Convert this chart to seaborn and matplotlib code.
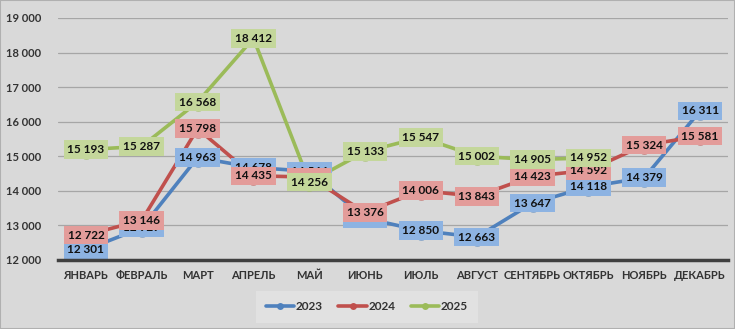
import matplotlib
matplotlib.use("Agg")
import matplotlib.pyplot as plt
import seaborn as sns
import pandas as pd
from matplotlib.patches import Rectangle

months = ["ЯНВАРЬ", "ФЕВРАЛЬ", "МАРТ", "АПРЕЛЬ", "МАЙ", "ИЮНЬ", "ИЮЛЬ",
          "АВГУСТ", "СЕНТЯБРЬ", "ОКТЯБРЬ", "НОЯБРЬ", "ДЕКАБРЬ"]
v2023 = [12301, 12929, 14963, 14678, 14566, 13208, 12850, 12663, 13647, 14118, 14379, 16311]
v2024 = [12722, 13146, 15798, 14435, 14400, 13376, 14006, 13843, 14423, 14592, 15324, 15581]
v2025 = [15193, 15287, 16568, 18412, 14256, 15133, 15547, 15002, 14905, 14952]
years = ["2023", "2024", "2025"]
series = [v2023, v2024, v2025]
yticks = [12000, 13000, 14000, 15000, 16000, 17000, 18000, 19000]

line_colors = {"2023": "#4f81bd", "2024": "#c0504d", "2025": "#9bbb59"}
box_colors = {"2023": "#8db3e2", "2024": "#e39c9a", "2025": "#c4d79b"}

rows = []
for y, vals in zip(years, series):
    for m, v in zip(months, vals):
        rows.append({"month": m, "year": y, "value": v})
df = pd.DataFrame(rows)
df["month"] = pd.Categorical(df["month"], categories=months, ordered=True)
df["x"] = df["month"].cat.codes

sns.set_theme(style="white")
plt.rcParams["font.family"] = ["Lato", "DejaVu Sans"]

BG = "#d9d9d9"
fig = plt.figure(figsize=(7.35, 3.29), dpi=100, facecolor=BG)
ax = fig.add_axes([58 / 735, 1 - 260 / 329, 670 / 735, 242 / 329])
ax.set_facecolor(BG)

sns.lineplot(data=df, x="x", y="value", hue="year", palette=line_colors,
             marker="o", markersize=13, linewidth=2.6, markeredgewidth=0,
             ax=ax, legend=True, zorder=3)

for y, vals in zip(years, series):
    for i, v in enumerate(vals):
        ax.text(i, v, f"{v:,}".replace(",", " "), ha="center", va="center",
                fontsize=8.5, fontweight="bold", color="#111111", zorder=5,
                bbox=dict(boxstyle="square,pad=0.32", fc=box_colors[y], ec="none"))

ax.set_xlim(-0.5, len(months) - 0.5)
ax.set_ylim(12000, 19000)
ax.set_xticks(range(len(months)))
ax.set_xticklabels(months)
ax.set_yticks(yticks)
ax.set_yticklabels([f"{t:,}".replace(",", " ") for t in yticks])
ax.tick_params(axis="x", length=0, pad=7, labelsize=8, labelcolor="#333333")
ax.tick_params(axis="y", length=0, pad=12, labelsize=8, labelcolor="#333333")
for lab in ax.get_xticklabels() + ax.get_yticklabels():
    lab.set_fontweight("bold")
ax.set_xlabel("")
ax.set_ylabel("")
ax.grid(axis="y", color="#a6a6a6", linewidth=0.9)
ax.set_axisbelow(True)
for s in ["top", "right", "left"]:
    ax.spines[s].set_visible(False)
ax.spines["bottom"].set_color("#404040")
ax.spines["bottom"].set_linewidth(2.5)
ax.spines["bottom"].set_zorder(6)

handles, labels = ax.get_legend_handles_labels()
for h in handles:
    h.set_markersize(5)
leg = fig.legend(handles, labels, loc="center", bbox_to_anchor=(367 / 735, 1 - 307 / 329),
                 ncol=3, frameon=True, fontsize=8.5, handlelength=2.4, columnspacing=1.3,
                 borderpad=0.55, handletextpad=0.15, borderaxespad=0)
leg.get_frame().set_facecolor("#e4e4e4")
leg.get_frame().set_edgecolor("none")
leg.get_frame().set_boxstyle("square")
for t in leg.get_texts():
    t.set_fontweight("bold")
    t.set_color("#333333")
if ax.get_legend():
    ax.get_legend().remove()

fig.patches.append(Rectangle((0, 0), 1, 1, transform=fig.transFigure, fill=False,
                             ec="#b0b0b0", lw=1.5))

fig.savefig("out.png", dpi=100, facecolor=BG)
